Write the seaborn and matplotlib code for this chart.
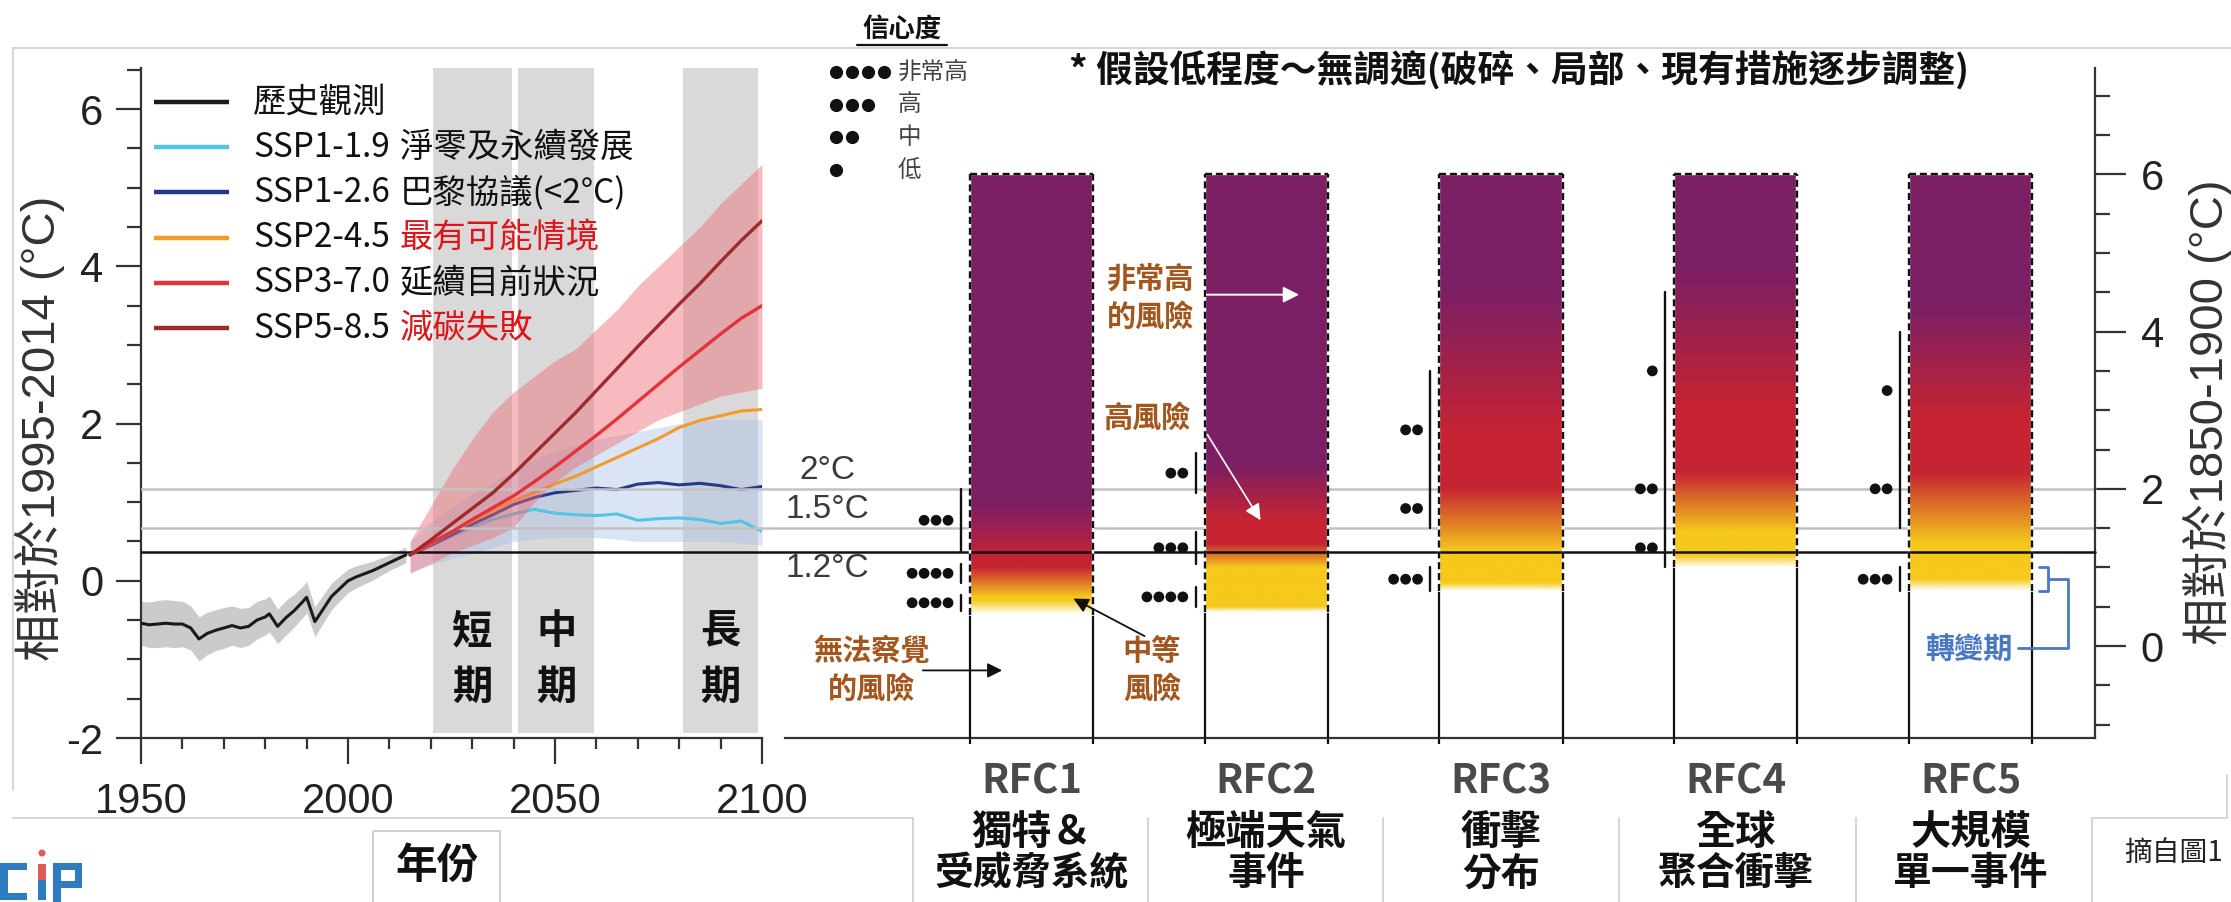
import numpy as np
import matplotlib
matplotlib.use("Agg")
import matplotlib.pyplot as plt
import seaborn as sns
import matplotlib.transforms as mtransforms
from matplotlib.patches import Rectangle, Circle
from matplotlib.ticker import MultipleLocator, FixedLocator

# ---------------- data ----------------
hist_years = [1950, 1952, 1954, 1956, 1958, 1960, 1962, 1964, 1966, 1968, 1970, 1972,
              1974, 1976, 1978, 1980, 1981, 1983, 1985, 1987, 1989, 1990, 1992, 1994,
              1996, 1998, 2000, 2002, 2004, 2006, 2008, 2010, 2012, 2014]
hist_vals = [-0.54, -0.56, -0.55, -0.54, -0.55, -0.55, -0.60, -0.74, -0.67, -0.63, -0.60, -0.57,
             -0.60, -0.58, -0.50, -0.46, -0.42, -0.58, -0.47, -0.38, -0.27, -0.21, -0.52, -0.36,
             -0.20, -0.10, 0.00, 0.05, 0.09, 0.13, 0.18, 0.23, 0.28, 0.33]
hist_spread = [0.28, 0.29, 0.30, 0.30, 0.30, 0.29, 0.28, 0.28, 0.27, 0.26, 0.26, 0.25,
               0.25, 0.24, 0.24, 0.23, 0.23, 0.22, 0.22, 0.21, 0.20, 0.20, 0.19, 0.18,
               0.17, 0.16, 0.15, 0.14, 0.13, 0.12, 0.11, 0.10, 0.10, 0.10]

proj_years = [2015, 2020, 2025, 2030, 2035, 2040, 2045, 2050, 2055, 2060, 2065, 2070,
              2075, 2080, 2085, 2090, 2095, 2100]
ssp119 = [0.33, 0.45, 0.57, 0.68, 0.78, 0.85, 0.91, 0.86, 0.84, 0.83, 0.85, 0.77,
          0.79, 0.80, 0.78, 0.73, 0.76, 0.63]
ssp126 = [0.33, 0.45, 0.58, 0.72, 0.84, 0.97, 1.06, 1.12, 1.15, 1.18, 1.16, 1.23,
          1.25, 1.22, 1.24, 1.21, 1.16, 1.20]
ssp245 = [0.33, 0.47, 0.62, 0.76, 0.89, 1.02, 1.12, 1.23, 1.33, 1.45, 1.57, 1.69,
          1.81, 1.95, 2.04, 2.10, 2.16, 2.18]
ssp370 = [0.33, 0.48, 0.62, 0.78, 0.93, 1.08, 1.26, 1.45, 1.65, 1.85, 2.06, 2.28,
          2.50, 2.72, 2.93, 3.14, 3.34, 3.50]
ssp585 = [0.33, 0.52, 0.72, 0.92, 1.12, 1.36, 1.62, 1.88, 2.14, 2.42, 2.70, 2.98,
          3.25, 3.52, 3.78, 4.06, 4.33, 4.58]
red_lo = [0.10, 0.22, 0.35, 0.45, 0.55, 0.68, 1.00, 1.25, 1.45, 1.60, 1.75, 1.90,
          2.05, 2.15, 2.25, 2.35, 2.40, 2.45]
red_hi = [0.50, 0.95, 1.40, 1.80, 2.15, 2.40, 2.60, 2.80, 2.95, 3.20, 3.45, 3.75,
          4.00, 4.25, 4.50, 4.80, 5.05, 5.30]
blue_lo = [0.10, 0.20, 0.28, 0.35, 0.42, 0.50, 0.53, 0.55, 0.55, 0.55, 0.53, 0.50,
           0.50, 0.50, 0.50, 0.50, 0.48, 0.45]
blue_hi = [0.50, 0.75, 0.92, 1.10, 1.25, 1.40, 1.55, 1.65, 1.72, 1.80, 1.85, 1.90,
           1.95, 2.00, 2.03, 2.05, 2.05, 2.05]

period_spans = [(2020.5, 2039.6), (2041.1, 2059.5), (2080.9, 2099.0)]
period_names = ["短期", "中期", "長期"]

baseline_offset = 0.83          # 1995-2014 relative to 1850-1900
thresholds = [1.2, 1.5, 2.0]
threshold_labels = ["1.2°C", "1.5°C", "2°C"]

rfc_names = ["RFC1", "RFC2", "RFC3", "RFC4", "RFC5"]
rfc_desc1 = ["獨特＆", "極端天氣", "衝擊", "全球", "大規模"]
rfc_desc2 = ["受威脅系統", "事件", "分布", "聚合衝擊", "單一事件"]
rfc_top = 6.0
# levels (°C vs 1850-1900): fade-in start, full yellow, yellow end, full red, red end, full purple
rfc_color_stops = [
    [0.40, 0.58, 0.62, 1.00, 1.10, 1.80],
    [0.43, 0.50, 1.00, 1.30, 1.60, 2.30],
    [0.70, 0.80, 1.20, 2.00, 2.70, 4.50],
    [1.00, 1.15, 1.45, 2.20, 3.00, 4.80],
    [0.70, 0.85, 1.30, 2.20, 2.90, 4.30],
]
# transition ranges (low, high, number of confidence dots)
rfc_transitions = [
    [(0.45, 0.65, 4), (0.80, 1.05, 4), (1.20, 2.00, 3)],
    [(0.50, 0.75, 4), (1.05, 1.45, 3), (1.95, 2.45, 2)],
    [(0.70, 1.00, 3), (1.50, 2.00, 2), (2.00, 3.50, 2)],
    [(1.00, 1.50, 2), (1.50, 2.50, 2), (2.50, 4.50, 1)],
    [(0.70, 1.00, 3), (1.50, 2.50, 2), (2.50, 4.00, 1)],
]
conf_levels = ["非常高", "高", "中", "低"]
conf_dots = [4, 3, 2, 1]

legend_codes = ["歷史觀測", "SSP1-1.9", "SSP1-2.6", "SSP2-4.5", "SSP3-7.0", "SSP5-8.5"]
legend_desc = ["", "淨零及永續發展", "巴黎協議(<2°C)", "最有可能情境", "延續目前狀況", "減碳失敗"]
legend_desc_red = [False, False, False, True, False, True]

# ---------------- style ----------------
sns.set_theme(style="ticks")
plt.rcParams['font.family'] = ['Liberation Sans', 'Noto Sans CJK TC', 'DejaVu Sans']
plt.rcParams['axes.unicode_minus'] = False
CJK = ['Noto Sans CJK TC', 'DejaVu Sans']
NUM = ['Liberation Sans', 'Noto Sans CJK TC', 'DejaVu Sans']

C_HIST = '#1a1a1a'
C119, C126, C245, C370, C585 = '#55c3e4', '#263a8a', '#f29a2e', '#e2323a', '#9e2a2a'
line_colors = [C_HIST, C119, C126, C245, C370, C585]
BROWN = '#a3561d'
BLUE_TXT = '#4a78c2'
AXC = '#333333'

W, H, DPI = 2231, 902, 100
fig = plt.figure(figsize=(W / DPI, H / DPI), dpi=DPI, facecolor='white')

deco = fig.add_axes([0, 0, 1, 1], zorder=0)
deco.set_xlim(0, W); deco.set_ylim(H, 0); deco.axis('off')

L_X0, L_X1, R_X0, R_X1 = 141, 762, 785, 2095
Y_TOP, Y_BOT = 68.3, 738.0
axh = (Y_BOT - Y_TOP) / H
ax = fig.add_axes([L_X0 / W, 1 - Y_BOT / H, (L_X1 - L_X0) / W, axh], zorder=2)
ax2 = fig.add_axes([R_X0 / W, 1 - Y_BOT / H, (R_X1 - R_X0) / W, axh], zorder=1)
top = fig.add_axes([0, 0, 1, 1], zorder=10)
top.set_xlim(0, W); top.set_ylim(H, 0); top.axis('off')
ax.set_facecolor('none'); ax2.set_facecolor('none')

YLO, YHI = -2.0, 6.52

# ---------------- left panel ----------------
ax.set_xlim(1950, 2100); ax.set_ylim(YLO, YHI)
for a, b in period_spans:
    ax.axvspan(a, b, ymin=0.007, ymax=1, color='#d9d9d9', lw=0, zorder=0.5)
hv = np.array(hist_vals); hs = np.array(hist_spread)
ax.fill_between(hist_years, hv - hs, hv + hs, color='#c9c9c9', alpha=0.95, lw=0, zorder=1)
ax.fill_between(proj_years, blue_lo, blue_hi, color='#a9bfe6', alpha=0.42, lw=0, zorder=1.2)
sns.lineplot(x=proj_years, y=ssp119, ax=ax, color=C119, lw=2.2, zorder=2)
sns.lineplot(x=proj_years, y=ssp126, ax=ax, color=C126, lw=2.2, zorder=2)
sns.lineplot(x=proj_years, y=ssp245, ax=ax, color=C245, lw=2.2, zorder=2)
ax.fill_between(proj_years, red_lo, red_hi, color='#ee6a72', alpha=0.45, lw=0, zorder=2.5)
for t in thresholds:
    col = '#111111' if t == thresholds[0] else '#c2c2c2'
    ax.axhline(t - baseline_offset, color=col, lw=1.8, zorder=2.7)
sns.lineplot(x=proj_years, y=ssp370, ax=ax, color=C370, lw=2.4, zorder=3)
sns.lineplot(x=proj_years, y=ssp585, ax=ax, color=C585, lw=2.4, zorder=3)
sns.lineplot(x=hist_years, y=hist_vals, ax=ax, color=C_HIST, lw=2.2, zorder=3)
ax.set_xlabel(''); ax.set_ylabel('')

for s in ['top', 'right']:
    ax.spines[s].set_visible(False)
for s in ['left', 'bottom']:
    ax.spines[s].set_linewidth(1.6); ax.spines[s].set_color(AXC)
ax.set_xticks([1950, 2000, 2050, 2100])
ax.xaxis.set_minor_locator(MultipleLocator(10))
ax.set_yticks([-2, 0, 2, 4, 6])
ax.yaxis.set_minor_locator(MultipleLocator(0.5))
ax.tick_params(axis='y', which='major', length=18, width=1.6, color=AXC, labelsize=30,
               labelcolor='#222222', pad=9, direction='out')
ax.tick_params(axis='y', which='minor', length=10, width=1.6, color=AXC, direction='out')
ax.tick_params(axis='x', which='major', length=19, width=1.6, color=AXC, labelsize=30,
               labelcolor='#222222', pad=13, direction='out')
ax.tick_params(axis='x', which='minor', length=8, width=1.6, color=AXC, direction='out')
for lab in ax.get_xticklabels() + ax.get_yticklabels():
    lab.set_family(NUM)

# period labels
for (a, b), name in zip(period_spans, period_names):
    xc = (a + b) / 2
    ax.text(xc, -0.65, name[0], ha='center', va='center', fontsize=29, fontweight='bold',
            family=CJK, color='#111111', zorder=5)
    ax.text(xc, -1.35, name[1], ha='center', va='center', fontsize=29, fontweight='bold',
            family=CJK, color='#111111', zorder=5)

# legend (manual, pixel coordinates)
for i, (code, desc, red) in enumerate(zip(legend_codes, legend_desc, legend_desc_red)):
    y = 102 + i * 45.2
    top.plot([154, 229], [y, y], color=line_colors[i], lw=3.2, solid_capstyle='butt')
    top.text(253, y, code, ha='left', va='center', fontsize=24, family=CJK, color='#111111')
    if desc:
        top.text(400, y, desc, ha='left', va='center', fontsize=24, family=CJK,
                 color='#dd1419' if red else '#111111')

fig.text(40 / W, 1 - 428 / H, '相對於1995-2014 (°C)', rotation=90, ha='center', va='center',
         fontsize=34, family=NUM, color='#333333')

# ---------------- right panel ----------------
RYLO, RYHI = YLO + baseline_offset, YHI + baseline_offset
BW = 0.525
SEG_DX = 0.038
DOT_DX0, DOT_STEP = 0.055, 0.051

ext = -(R_X0 - L_X1) / (R_X1 - R_X0)
ax2.axhline(thresholds[1], xmin=ext, xmax=1, color='#c2c2c2', lw=1.8, clip_on=False, zorder=1)
ax2.axhline(thresholds[2], xmin=ext, xmax=1, color='#c2c2c2', lw=1.8, clip_on=False, zorder=1)
ax2.axhline(thresholds[0], xmin=ext, xmax=1, color='#111111', lw=1.8, clip_on=False, zorder=4)

YEL = np.array([246, 201, 28]) / 255
RED = np.array([198, 36, 50]) / 255
PUR = np.array([124, 31, 100]) / 255


def bar_rgba(stops, ys):
    s0, s1, s2, s3, s4, s5 = stops
    out = np.zeros((len(ys), 4))
    for k, y in enumerate(ys):
        if y < s0:
            c, a = YEL, 0.0
        elif y < s1:
            c, a = YEL, (y - s0) / (s1 - s0)
        elif y < s2:
            c, a = YEL, 1.0
        elif y < s3:
            t = (y - s2) / (s3 - s2); c, a = YEL * (1 - t) + RED * t, 1.0
        elif y < s4:
            c, a = RED, 1.0
        elif y < s5:
            t = (y - s4) / (s5 - s4); c, a = RED * (1 - t) + PUR * t, 1.0
        else:
            c, a = PUR, 1.0
        out[k, :3] = c; out[k, 3] = a
    return out


ys = np.linspace(RYLO, rfc_top, 800)
for i, stops in enumerate(rfc_color_stops):
    c = i + 1
    xl, xr = c - BW / 2, c + BW / 2
    img = bar_rgba(stops, ys)[:, None, :]
    ax2.imshow(img, extent=(xl, xr, ys[0], ys[-1]), origin='lower', aspect='auto',
               interpolation='bilinear', zorder=2)
    s0 = stops[0]
    ax2.vlines([xl, xr], RYLO, s0, color='#111111', lw=1.6, zorder=5)
    for xx in (xl, xr):
        ax2.plot([xx, xx], [s0, rfc_top], color='white', lw=1.7, zorder=5)
        ax2.plot([xx, xx], [s0, rfc_top], color='#111111', lw=1.7, ls=(0, (3, 1.6)), zorder=6)
    ax2.plot([xl, xr], [rfc_top, rfc_top], color='white', lw=1.7, zorder=5)
    ax2.plot([xl, xr], [rfc_top, rfc_top], color='#111111', lw=1.7, ls=(0, (3, 1.6)), zorder=6)
    sx = xl - SEG_DX
    for lo, hi, n in rfc_transitions[i]:
        ax2.plot([sx, sx], [lo, hi], color='#111111', lw=1.7, zorder=5)
        mid = (lo + hi) / 2
        xs = [sx - DOT_DX0 - k * DOT_STEP for k in range(n)]
        sns.scatterplot(x=xs, y=[mid] * n, ax=ax2, s=60, color='#111111', edgecolor='none',
                        zorder=6, legend=False)

ax2.set_xlim(-0.05, 5.53); ax2.set_ylim(RYLO, RYHI)
ax2.set_xlabel(''); ax2.set_ylabel('')
for s in ['top', 'left']:
    ax2.spines[s].set_visible(False)
for s in ['right', 'bottom']:
    ax2.spines[s].set_linewidth(1.6); ax2.spines[s].set_color(AXC)
ax2.yaxis.tick_right()
ax2.set_yticks([0, 2, 4, 6])
ax2.yaxis.set_minor_locator(FixedLocator(np.arange(-1.0, 7.01, 0.5)))
ax2.tick_params(axis='y', which='major', length=22, width=1.6, color=AXC, labelsize=30,
                labelcolor='#222222', pad=11, right=True, left=False, direction='out')
ax2.tick_params(axis='y', which='minor', length=11, width=1.6, color=AXC, right=True,
                left=False, direction='out')
ax2.set_xticks([1, 2, 3, 4, 5]); ax2.set_xticklabels([])
ax2.tick_params(axis='x', which='major', length=0)
edges = [c + d for c in range(1, 6) for d in (-BW / 2, BW / 2)]
ax2.xaxis.set_minor_locator(FixedLocator(edges))
ax2.tick_params(axis='x', which='minor', length=4, width=1.6, color='#111111', direction='out')
for lab in ax2.get_yticklabels():
    lab.set_family(NUM)

# threshold labels
tl_y = [thresholds[0] - 0.21, thresholds[1] + 0.24, thresholds[2] + 0.235]
for lab, yy in zip(threshold_labels, tl_y):
    ax2.text(0.129, yy, lab, ha='center', va='center', fontsize=24, family=NUM,
             color='#3a3a3a', zorder=7)

# risk annotations
akw = dict(ha='center', va='center', fontsize=21, family=CJK, color=BROWN, zorder=7,
           fontweight='bold')
ax2.text(1.505, 4.67, '非常高', **akw)
ax2.text(1.505, 4.19, '的風險', **akw)
ax2.annotate('', xy=(2.152, 4.47), xytext=(1.735, 4.47),
             arrowprops=dict(arrowstyle='-|>', color='white', lw=1.4, mutation_scale=24), zorder=8)
ax2.text(1.492, 2.91, '高風險', **akw)
ax2.annotate('', xy=(1.982, 1.57), xytext=(1.743, 2.72),
             arrowprops=dict(arrowstyle='-|>', color='white', lw=1.2, mutation_scale=24), zorder=8)
ax2.text(0.32, -0.06, '無法察覺', **akw)
ax2.text(0.32, -0.54, '的風險', **akw)
ax2.annotate('', xy=(0.887, -0.31), xytext=(0.525, -0.31),
             arrowprops=dict(arrowstyle='-|>', color='#111111', lw=1.3, mutation_scale=22), zorder=8)
ax2.text(1.513, -0.06, '中等', **akw)
ax2.text(1.513, -0.54, '風險', **akw)
ax2.annotate('', xy=(1.168, 0.62), xytext=(1.492, 0.11),
             arrowprops=dict(arrowstyle='-|>', color='#111111', lw=1.3, mutation_scale=22), zorder=8)

# transition bracket (RFC5 first transition)
t_lo, t_hi = rfc_transitions[4][0][0], rfc_transitions[4][0][1]
bx0, bx1, bx2, btx = 5.292, 5.33, 5.415, 5.20
ax2.plot([bx0, bx1, bx1, bx0], [t_hi, t_hi, t_lo, t_lo], color=BLUE_TXT, lw=2.0, clip_on=False, zorder=7)
ax2.plot([bx1, bx2, bx2, btx], [(t_lo + t_hi) / 2, (t_lo + t_hi) / 2, -0.03, -0.03],
         color=BLUE_TXT, lw=2.0, clip_on=False, zorder=7)
ax2.text(4.994, -0.03, '轉變期', ha='center', va='center', fontsize=21, family=CJK,
         color=BLUE_TXT, zorder=7, fontweight='bold')

fig.text(2208 / W, 1 - 412 / H, '相對於1850-1900 (°C)', rotation=90, ha='center', va='center',
         fontsize=34, family=NUM, color='#333333')

# RFC labels (x from category positions, y in pixels)
trans = mtransforms.blended_transform_factory(ax2.transData, top.transData)
for i in range(5):
    top.text(i + 1, 782, rfc_names[i], transform=trans, ha='center', va='center', fontsize=29,
             family=CJK, color='#4a4a4a', fontweight='bold')
    top.text(i + 1, 832, rfc_desc1[i], transform=trans, ha='center', va='center', fontsize=29,
             family=CJK, color='#111111', fontweight='bold')
    top.text(i + 1, 874, rfc_desc2[i], transform=trans, ha='center', va='center', fontsize=28,
             family=CJK, color='#111111', fontweight='bold')

# ---------------- top texts ----------------
top.text(1519, 70, '* 假設低程度～無調適(破碎、局部、現有措施逐步調整)', ha='center', va='center',
         fontsize=26.5, fontweight='bold', family=CJK, color='#111111')
top.text(902, 30, '信心度', ha='center', va='center', fontsize=19, fontweight='bold',
         family=CJK, color='#111111')
top.plot([857, 947], [45, 45], color='#111111', lw=1.6)
for r, (lvl, n) in enumerate(zip(conf_levels, conf_dots)):
    y = 72 + r * 32.7
    top.plot([836 + k * 16 for k in range(n)], [y] * n, ls='none', marker='o', ms=9.5,
             color='#111111', mec='none')
    top.text(898, y, lvl, ha='left', va='center', fontsize=17, family=CJK, color='#444444')

top.text(437, 866, '年份', ha='center', va='center', fontsize=30, fontweight='bold',
         family=CJK, color='#111111')
top.text(2124, 853, '摘自圖1', ha='left', va='center', fontsize=20, family=CJK, color='#222222')

# ---------------- frame decorations ----------------
FR = '#d2d2d2'
deco.plot([13, W], [48, 48], color=FR, lw=1.3)
deco.plot([13, 13], [48, 790], color=FR, lw=1.3)
deco.plot([13, 913], [818, 818], color=FR, lw=1.3)
for xx in [913, 1148, 1383, 1619, 1856, 2092]:
    deco.plot([xx, xx], [818, H], color=FR, lw=1.3)
deco.plot([2092, 2227], [818, 818], color=FR, lw=1.3)
deco.plot([2227, 2227], [775, 818], color=FR, lw=1.3)
deco.add_patch(Rectangle((373, 831), 127, 80, fill=False, ec='#cccccc', lw=1.3))

# logo
LB, LR = '#2d7cc0', '#e05a5a'
for (x, y, w, h, c) in [(0, 863, 8, 37, LB), (0, 863, 27, 7, LB), (0, 893, 27, 7, LB),
                        (38, 864, 8, 16, LR), (38, 880, 8, 20, LB),
                        (53, 863, 8, 39, LB), (53, 863, 29, 7, LB), (75, 863, 7, 25, LB),
                        (53, 881, 29, 7, LB)]:
    deco.add_patch(Rectangle((x, y), w, h, color=c, lw=0))
deco.add_patch(Circle((42, 853), 3.5, color=LR, lw=0))

fig.savefig('out.png', dpi=DPI, facecolor='white')
